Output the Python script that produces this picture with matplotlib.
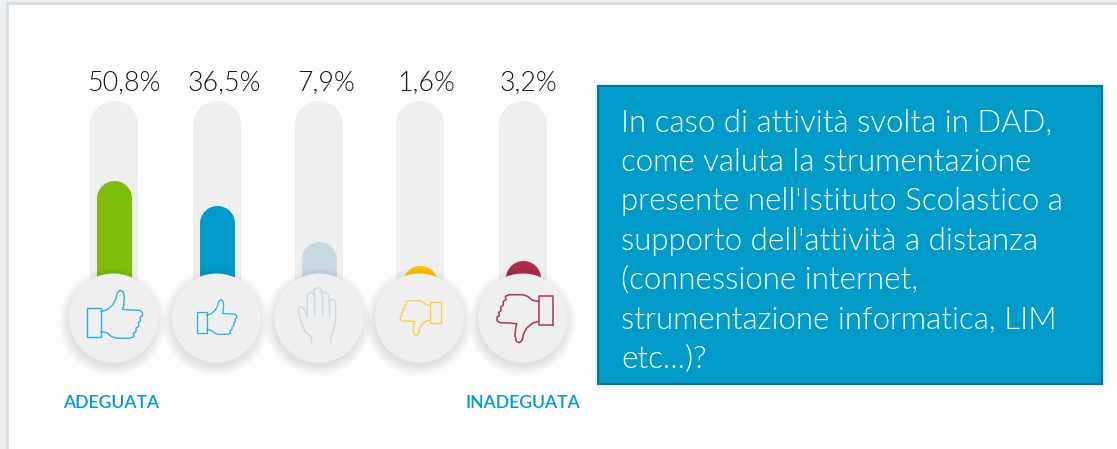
import numpy as np
import matplotlib
matplotlib.use("Agg")
import matplotlib.pyplot as plt
from matplotlib import font_manager as fm
from matplotlib.patches import Circle, Rectangle, PathPatch
from matplotlib.path import Path

# Values and labels
value_labels = ["50,8%", "36,5%", "7,9%", "1,6%", "3,2%"]
# fill height of each bar (the scale is not linear)
fill_heights = [137, 112, 76, 52, 57]
bar_colors = ["#7FBC0C", "#009BC8", "#C9D9E4", "#FFBE00", "#AD2B4B"]
icon_colors = ["#2AB0D6", "#2AB0D6", "#CADAE5", "#FFCB3D", "#B0344F"]
low_label = "ADEGUATA"
high_label = "INADEGUATA"
question = ("In caso di attività svolta in DAD,\n"
            "come valuta la strumentazione\n"
            "presente nell'Istituto Scolastico a\n"
            "supporto dell'attività a distanza\n"
            "(connessione internet,\n"
            "strumentazione informatica, LIM\n"
            "etc...)?")

plt.rcParams['font.family'] = ['Lato', 'DejaVu Sans']

# Lato Light if the file is there, the plain weight otherwise
light_files = [f.fname for f in fm.fontManager.ttflist
               if f.name == 'Lato' and f.fname.endswith('Lato-Light.ttf')]
if light_files:
    light_font = fm.FontProperties(fname=light_files[0])
else:
    light_font = fm.FontProperties(family='Lato')

# Layout in pixels
bar_x = [114, 217, 319, 420, 523]
circle_x = [113.5, 216.5, 319, 419.5, 522.8]
circle_y = 318
label_x = [124, 224, 326, 426, 528]

thumb = np.array([(152,755),(170,750),(188,735),(197,718),(202,698),(210,691),(219,695),
                  (223,712),(221,735),(218,748),(240,750),(268,751),(277,757),(277,768),
                  (270,772),(272,782),(265,788),(266,798),(258,804),(258,815),(250,820),
                  (252,830),(240,835),(200,835),(185,830),(170,818),(152,815)], float)
cuff = np.array([(110,744),(152,744),(152,830),(110,830),(110,744)], float)
hand = np.array([(95,337),(95,322),(75,305),(62,272),(54,240),(60,230),(70,233),(82,262),
                 (82,195),(90,186),(102,192),(103,178),(113,172),(123,178),(125,192),
                 (135,186),(146,195),(147,215),(157,207),(167,215),(167,270),(160,300),
                 (152,320),(152,337)], float)
hand_lines = [np.array([(103,192),(103,255)], float),
              np.array([(125,192),(125,255)], float),
              np.array([(147,215),(147,258)], float)]


def rounded_top(ax, cx, width, top, bottom, color):
    r = width / 2
    t = np.linspace(np.pi, 0, 40)
    xs = cx + r * np.cos(t)
    ys = top + r - r * np.sin(t)
    verts = [(cx - r, bottom)] + list(zip(xs, ys)) + [(cx + r, bottom), (cx - r, bottom)]
    codes = [Path.MOVETO] + [Path.LINETO] * (len(verts) - 2) + [Path.CLOSEPOLY]
    ax.add_patch(PathPatch(Path(verts, codes), fc=color, ec="none", zorder=2))


def draw_lines(ax, parts, center, cx, cy, scale, flip, color, lw):
    for p in parts:
        q = (p - center) / 3 * scale
        if flip:
            q = -q
        ax.plot(cx + q[:, 0], cy + q[:, 1], color=color, lw=lw, zorder=6,
                solid_joinstyle="round", solid_capstyle="round")


fig = plt.figure(figsize=(11.17, 4.49), dpi=100, facecolor="#EFEFEF")
ax = fig.add_axes([0, 0, 1, 1])
ax.set_xlim(0, 1117)
ax.set_ylim(449, 0)
ax.axis("off")

# Card
ax.add_patch(Rectangle((7, 3), 1112, 450, fc="#FDFDFD", ec="#D3DFE6", lw=2, zorder=0))

for i in range(5):
    # grey track, then the coloured fill
    rounded_top(ax, bar_x[i], 48, 101, circle_y, "#EFEFEF")
    rounded_top(ax, bar_x[i] + 0.5, 35, circle_y - fill_heights[i], circle_y, bar_colors[i])

    # soft shadow under the button
    for k in range(14):
        ax.add_patch(Circle((circle_x[i] - 1, circle_y + 4), 54 - k * 0.8, fc="#000000",
                            ec="none", alpha=0.009, zorder=3))
    ax.add_patch(Circle((circle_x[i], circle_y), 44.5, fc="#EFEFEF", ec="none", zorder=4))

    ax.text(label_x[i], 83, value_labels[i], ha="center", va="center", fontproperties=light_font,
            fontsize=19.3, color="#10181E", zorder=5)

# Icons
big = np.array([194.0, 763.0])
draw_lines(ax, [thumb, cuff], big, 114.7, 314.3, 1.0, False, icon_colors[0], 1.0)
draw_lines(ax, [thumb, cuff], big, 216.7, 317.0, 0.72, False, icon_colors[1], 0.9)
hand_c = np.array([110.0, 255.0])
draw_lines(ax, [hand] + hand_lines, hand_c, 316.7, 315, 1.0, False, icon_colors[2], 1.0)
draw_lines(ax, [thumb, cuff], big, 420.3, 318.0, 0.726, True, icon_colors[3], 0.9)
draw_lines(ax, [thumb, cuff], big, 524.7, 318.7, 1.0, True, icon_colors[4], 1.1)

# End labels
ax.text(111.5, 403, low_label, ha="center", va="center", fontsize=12.7, fontweight="semibold",
        color="#009BC8")
ax.text(523, 403, high_label, ha="center", va="center", fontsize=12.7, fontweight="semibold",
        color="#009BC8")

# Question box
ax.add_patch(Rectangle((598, 86), 504, 298, fc="#009BC8", ec="#00789A", lw=1.6, zorder=2))
ax.text(621, 241, question, ha="left", va="center", fontproperties=light_font, fontsize=22.5,
        color="white", linespacing=1.454, zorder=3)

fig.savefig("out.png", dpi=100, facecolor=fig.get_facecolor())
